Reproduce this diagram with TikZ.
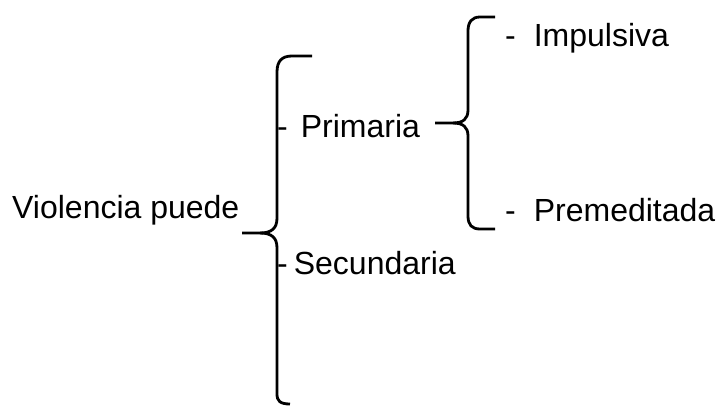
\documentclass[tikz,border=0pt]{standalone}
\usepackage{fontspec}
\setmainfont{Liberation Sans}
\begin{document}
\begin{tikzpicture}[x=1pt,y=-1pt,
  lbl/.style={anchor=base west,inner sep=0pt,font=\fontsize{32}{36}\selectfont},
  bracepath/.style={line width=2.8pt,line cap=butt}]
\useasboundingbox (0,0) rectangle (718,407);
% texts
\node[lbl] (root) at (12,218) {Violencia puede};
\node[lbl] (prim) at (277,137) {-\hspace{13pt}Primaria};
\node[lbl] (sec) at (277,274) {-\hspace{6pt}Secundaria};
\node[lbl] (imp) at (505,46) {-\hspace{18pt}Impulsiva};
\node[lbl] (pre) at (505,221) {-\hspace{18pt}Premeditada};
% big brace
\coordinate (bigtop) at (312,56);
\coordinate (bigtip) at (242,233);
\coordinate (bigbot) at (290,404);
\draw[bracepath] (bigtop) -- (292,56) .. controls (282,56) and (277,61) .. (277,72)
  -- (277,218) .. controls (277,228) and (272,233) .. (260,233) -- (bigtip);
\draw[bracepath] (260,233) .. controls (272,233) and (277,238) .. (277,248)
  -- (277,394) .. controls (277,401) and (280,404) .. (bigbot);
% small brace
\coordinate (smtop) at (495,17);
\coordinate (smtip) at (435,123);
\coordinate (smbot) at (495,229);
\draw[bracepath] (smtop) -- (480,17) .. controls (472,17) and (468,22) .. (468,31)
  -- (468,110) .. controls (468,119) and (463,123) .. (453,123) -- (smtip);
\draw[bracepath] (453,123) .. controls (463,123) and (468,127) .. (468,136)
  -- (468,216) .. controls (468,225) and (472,229) .. (480,229) -- (smbot);
\end{tikzpicture}
\end{document}
